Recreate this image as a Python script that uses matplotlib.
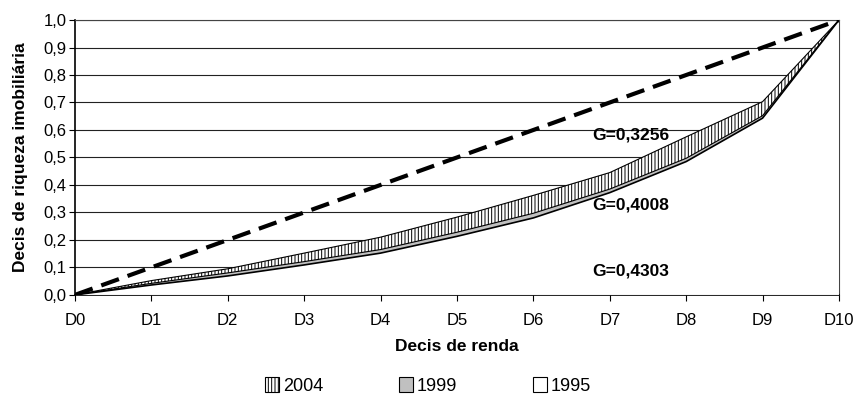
import numpy as np
import matplotlib
matplotlib.use("Agg")
import matplotlib.pyplot as plt
from matplotlib.patches import Patch

plt.rcParams['font.family'] = ['Liberation Sans', 'DejaVu Sans']
plt.rcParams['hatch.linewidth'] = 0.7

# decis de renda
decis = ["D0", "D1", "D2", "D3", "D4", "D5", "D6", "D7", "D8", "D9", "D10"]
# curvas de concentracao
y2004 = [0, 0.052, 0.095, 0.152, 0.21, 0.283, 0.362, 0.445, 0.575, 0.703, 1.0]
y1999 = [0, 0.042, 0.080, 0.121, 0.165, 0.228, 0.297, 0.385, 0.497, 0.652, 1.0]
y1995 = [0, 0.036, 0.069, 0.109, 0.152, 0.213, 0.280, 0.372, 0.485, 0.643, 1.0]
igualdade = [0, 0.1, 0.2, 0.3, 0.4, 0.5, 0.6, 0.7, 0.8, 0.9, 1.0]
gini_labels = ["G=0,3256", "G=0,4008", "G=0,4303"]
gini_pos = [(6.77, 0.58), (6.77, 0.327), (6.77, 0.087)]
series_names = ["2004", "1999", "1995"]

x = np.arange(len(decis))

fig = plt.figure(figsize=(8.56, 4.09), dpi=100)
ax = fig.add_axes([0.0876, 0.279, 0.8925, 0.672])

ax.set_ylim(0, 1.0)
ax.set_xlim(0, 10)
ax.set_yticks(np.arange(0, 1.01, 0.1))
ax.set_yticklabels([f"{v:.1f}".replace(".", ",") for v in np.arange(0, 1.01, 0.1)])
ax.set_xticks(x)
ax.set_xticklabels(decis)
ax.grid(axis='y', color='#222222', lw=0.8)
ax.set_axisbelow(True)

# areas sobrepostas
ax.fill_between(x, 0, y2004, facecolor='white', edgecolor='black', hatch='|||||', lw=0, zorder=2)
ax.plot(x, y2004, color='black', lw=0.8, zorder=3)
ax.fill_between(x, 0, y1999, facecolor='#c0c0c0', edgecolor='none', zorder=4)
ax.plot(x, y1999, color='black', lw=0.8, zorder=5)
ax.fill_between(x, 0, y1995, facecolor='white', edgecolor='none', zorder=6)
ax.plot(x, y1995, color='black', lw=1.2, zorder=7)

ax.plot(x, igualdade, color='black', lw=3, dashes=(4.5, 2.2), zorder=8)

for txt, (px, py) in zip(gini_labels, gini_pos):
    ax.text(px, py, txt, fontsize=12.5, fontweight='bold', va='center', ha='left', zorder=9)

for s in ['top', 'right']:
    ax.spines[s].set_color('#444444')
    ax.spines[s].set_linewidth(0.8)
for s in ['left', 'bottom']:
    ax.spines[s].set_linewidth(1.2)
ax.tick_params(axis='both', labelsize=12, length=4, width=0.8)
ax.tick_params(axis='x', pad=9)
ax.tick_params(axis='y', pad=2)

ax.set_ylabel("Decis de riqueza imobiliária", fontsize=12.5, fontweight='bold', labelpad=11)
ax.set_xlabel("Decis de renda", fontsize=12.5, fontweight='bold', labelpad=8)

handles = [Patch(facecolor='white', edgecolor='black', hatch='|||||', lw=0.8),
           Patch(facecolor='#c0c0c0', edgecolor='black', lw=0.8),
           Patch(facecolor='white', edgecolor='black', lw=0.8)]
fig.legend(handles, series_names, loc='center', bbox_to_anchor=(0.5, 0.056), ncol=3,
           frameon=False, fontsize=13, handlelength=0.8, handleheight=0.9,
           handletextpad=0.2, columnspacing=4.2)

fig.savefig("out.png", dpi=100)
